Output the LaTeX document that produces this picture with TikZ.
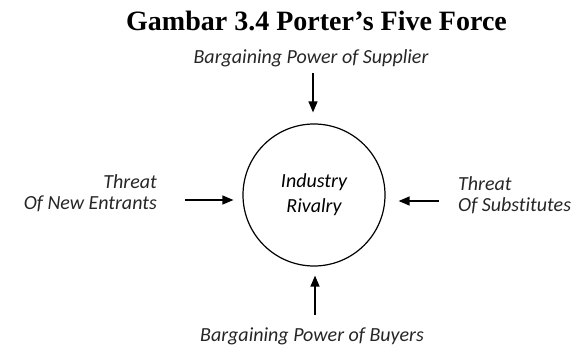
\documentclass[tikz,border=0pt]{standalone}
\usepackage{fontspec}
\setmainfont{Liberation Serif}
\newfontfamily\forcefont[Ligatures=NoCommon]{Carlito}
\usetikzlibrary{arrows.meta}

\tikzset{
  forcelabel/.style={font=\forcefont\itshape\fontsize{20}{21}\selectfont, inner sep=0pt, text=black!85},
  force/.style={line width=1.3pt, -{Triangle[length=11pt,width=9pt]}},
  hub/.style={circle, draw, line width=1.2pt, minimum size=142pt, inner sep=0pt, align=center,
              font=\forcefont\itshape\fontsize{20}{25}\selectfont}
}

\begin{document}
\begin{tikzpicture}[x=1pt,y=-1pt]
  \useasboundingbox (0,0) rectangle (583,350);

  % heading
  \node[font=\bfseries\fontsize{28}{30}\selectfont, anchor=base, inner sep=0pt] (title)
    at (316.5,31) {Gambar 3.4 Porter’s Five Force};

  % central force
  \node[hub] (rivalry) at (314,195) {Industry\\Rivalry};

  % the four outer forces
  \node[forcelabel, anchor=base] (supplier) at (311,64) {Bargaining Power of Supplier};
  \node[forcelabel, anchor=base] (buyers) at (312,341) {Bargaining Power of Buyers};
  \node[forcelabel, anchor=east, align=right] (entrants) at (157,193) {Threat\\Of New Entrants};
  \node[forcelabel, anchor=west, align=left] (substitutes) at (458,195) {Threat\\Of Substitutes};

  % arrow tails
  \coordinate (supTail) at (313,73);
  \coordinate (buyTail) at (315,315);
  \coordinate (entTail) at (185,200);
  \coordinate (subTail) at (439,201);

  \draw[force, shorten >=11pt] (supTail) -- (supTail |- rivalry.north);
  \draw[force, shorten >=9pt] (buyTail) -- (buyTail |- rivalry.south);
  \draw[force, shorten >=9pt] (entTail) -- (entTail -| rivalry.west);
  \draw[force, shorten >=13pt] (subTail) -- (subTail -| rivalry.east);
\end{tikzpicture}
\end{document}
